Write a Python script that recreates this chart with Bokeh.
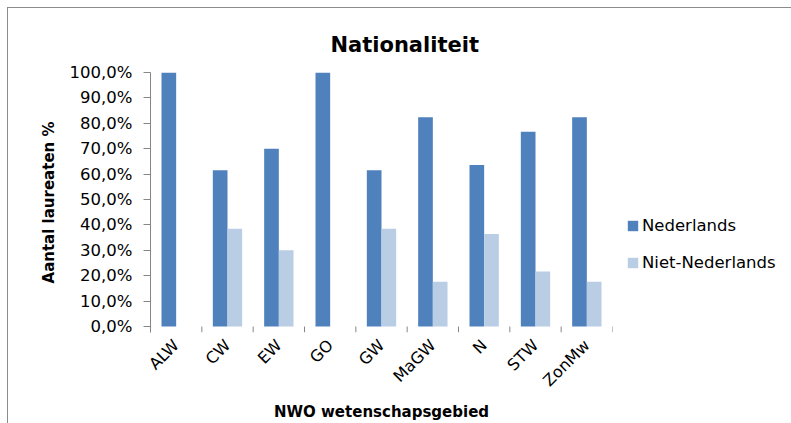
import math
from bokeh.plotting import figure
from bokeh.models import FactorRange, Range1d, FixedTicker, ColumnDataSource, Legend
from bokeh.transform import dodge
from bokeh.embed import file_html
from bokeh.resources import INLINE

categories = ["ALW", "CW", "EW", "GO", "GW", "MaGW", "N", "STW", "ZonMw"]
nederlands = [100.0, 61.5, 70.0, 100.0, 61.5, 82.4, 63.6, 76.7, 82.4]
niet_nederlands = [0.0, 38.5, 30.0, 0.0, 38.5, 17.6, 36.4, 21.7, 17.6]
series_names = ["Nederlands", "Niet-Nederlands"]
y_ticks = [0, 10, 20, 30, 40, 50, 60, 70, 80, 90, 100]
y_tick_labels = ["0,0%", "10,0%", "20,0%", "30,0%", "40,0%", "50,0%",
                 "60,0%", "70,0%", "80,0%", "90,0%", "100,0%"]

DARK = "#4F81BD"
LIGHT = "#B9CDE5"
GRAY = "#868686"
FONT = "DejaVu Sans"

# layout (pixels)
W, H = 783, 415
LEFT, TOP = 142, 64
FRAME_W = 462
PLOT_H = 254          # height from 0% to 100%
TICK_PX = 6           # length of category boundary ticks below the 0% line
FRAME_H = PLOT_H + TICK_PX
BOTTOM = H - TOP - FRAME_H
RIGHT = W - LEFT - FRAME_W
y_low = -100.0 * TICK_PX / PLOT_H

p = figure(x_range=FactorRange(*categories), y_range=Range1d(y_low, 100),
           frame_width=FRAME_W, frame_height=FRAME_H,
           output_backend="svg", toolbar_location=None,
           min_border_left=LEFT, min_border_right=RIGHT, min_border_top=TOP,
           min_border_bottom=BOTTOM)
p.styles = {"outline": "1px solid #8c8c8c", "margin-left": "8px", "margin-top": "8px"}
p.xgrid.visible = False
p.ygrid.visible = False
p.outline_line_color = None

# title
p.title.text = "Nationaliteit"
p.title.align = "left"
p.title.offset = 180
p.title.text_font = FONT
p.title.text_font_style = "bold"
p.title.text_font_size = "21px"
p.title.text_color = "#000000"
p.title.text_line_height = 0.9
p.title.standoff = 32

# y axis
ya = p.yaxis[0]
ya.ticker = FixedTicker(ticks=y_ticks)
ya.major_label_overrides = {t: l for t, l in zip(y_ticks, y_tick_labels)}
ya.minor_tick_line_color = None
ya.major_tick_in = 0
ya.major_tick_out = 7
ya.major_tick_line_color = GRAY
ya.axis_line_color = GRAY
ya.major_label_text_font = FONT
ya.major_label_text_font_size = "16.5px"
ya.major_label_text_color = "#000000"
ya.major_label_standoff = 11
ya.axis_label = "Aantal laureaten %"
ya.axis_label_text_font = FONT
ya.axis_label_text_font_style = "bold"
ya.axis_label_text_font_size = "15px"
ya.axis_label_text_color = "#000000"
ya.axis_label_standoff = 9

# categorical x axis (labels only)
xa = p.xaxis[0]
xa.axis_line_color = None
xa.major_tick_line_color = None
xa.minor_tick_line_color = None
xa.major_label_orientation = math.pi / 4
xa.major_label_text_font = FONT
xa.major_label_text_font_size = "16px"
xa.major_label_text_color = "#000000"
xa.major_label_standoff = 4
xa.axis_label = "NWO wetenschapsgebied"
xa.axis_label_text_font = FONT
xa.axis_label_text_font_style = "bold"
xa.axis_label_text_font_size = "15px"
xa.axis_label_text_color = "#000000"
xa.axis_label_standoff = 3

src = ColumnDataSource(dict(cat=categories, ned=nederlands, niet=niet_nederlands,
                            zero=[0.0] * len(categories),
                            low=[y_low] * len(categories)))
bw = 1 / 3.5
r1 = p.vbar(x=dodge("cat", -bw / 2, range=p.x_range), top="ned", width=bw, source=src,
            fill_color=DARK, line_color=None)
r2 = p.vbar(x=dodge("cat", bw / 2, range=p.x_range), top="niet", width=bw, source=src,
            fill_color=LIGHT, line_color=None)

# category boundary ticks (Excel style)
p.segment(x0=dodge("cat", -0.5, range=p.x_range), x1=dodge("cat", -0.5, range=p.x_range),
          y0="zero", y1="low", source=src, line_color=GRAY, line_width=1)
last = ColumnDataSource(dict(cat=categories[-1:], zero=[0.0], low=[y_low]))
p.segment(x0=dodge("cat", 0.5, range=p.x_range), x1=dodge("cat", 0.5, range=p.x_range),
          y0="zero", y1="low", source=last, line_color=GRAY, line_width=1)

leg = Legend(items=[(series_names[0], [r1]), (series_names[1], [r2])])
leg.location = (14, 54 + TICK_PX)
leg.padding = 0
leg.margin = 0
leg.border_line_color = None
leg.background_fill_alpha = 0
leg.glyph_width = 13
leg.glyph_height = 13
leg.label_height = 20
leg.spacing = 17
leg.label_standoff = 3
leg.label_text_font = FONT
leg.label_text_font_size = "16.5px"
leg.label_text_color = "#000000"
p.add_layout(leg, "right")

open("out.html", "w").write(file_html(p, INLINE))
